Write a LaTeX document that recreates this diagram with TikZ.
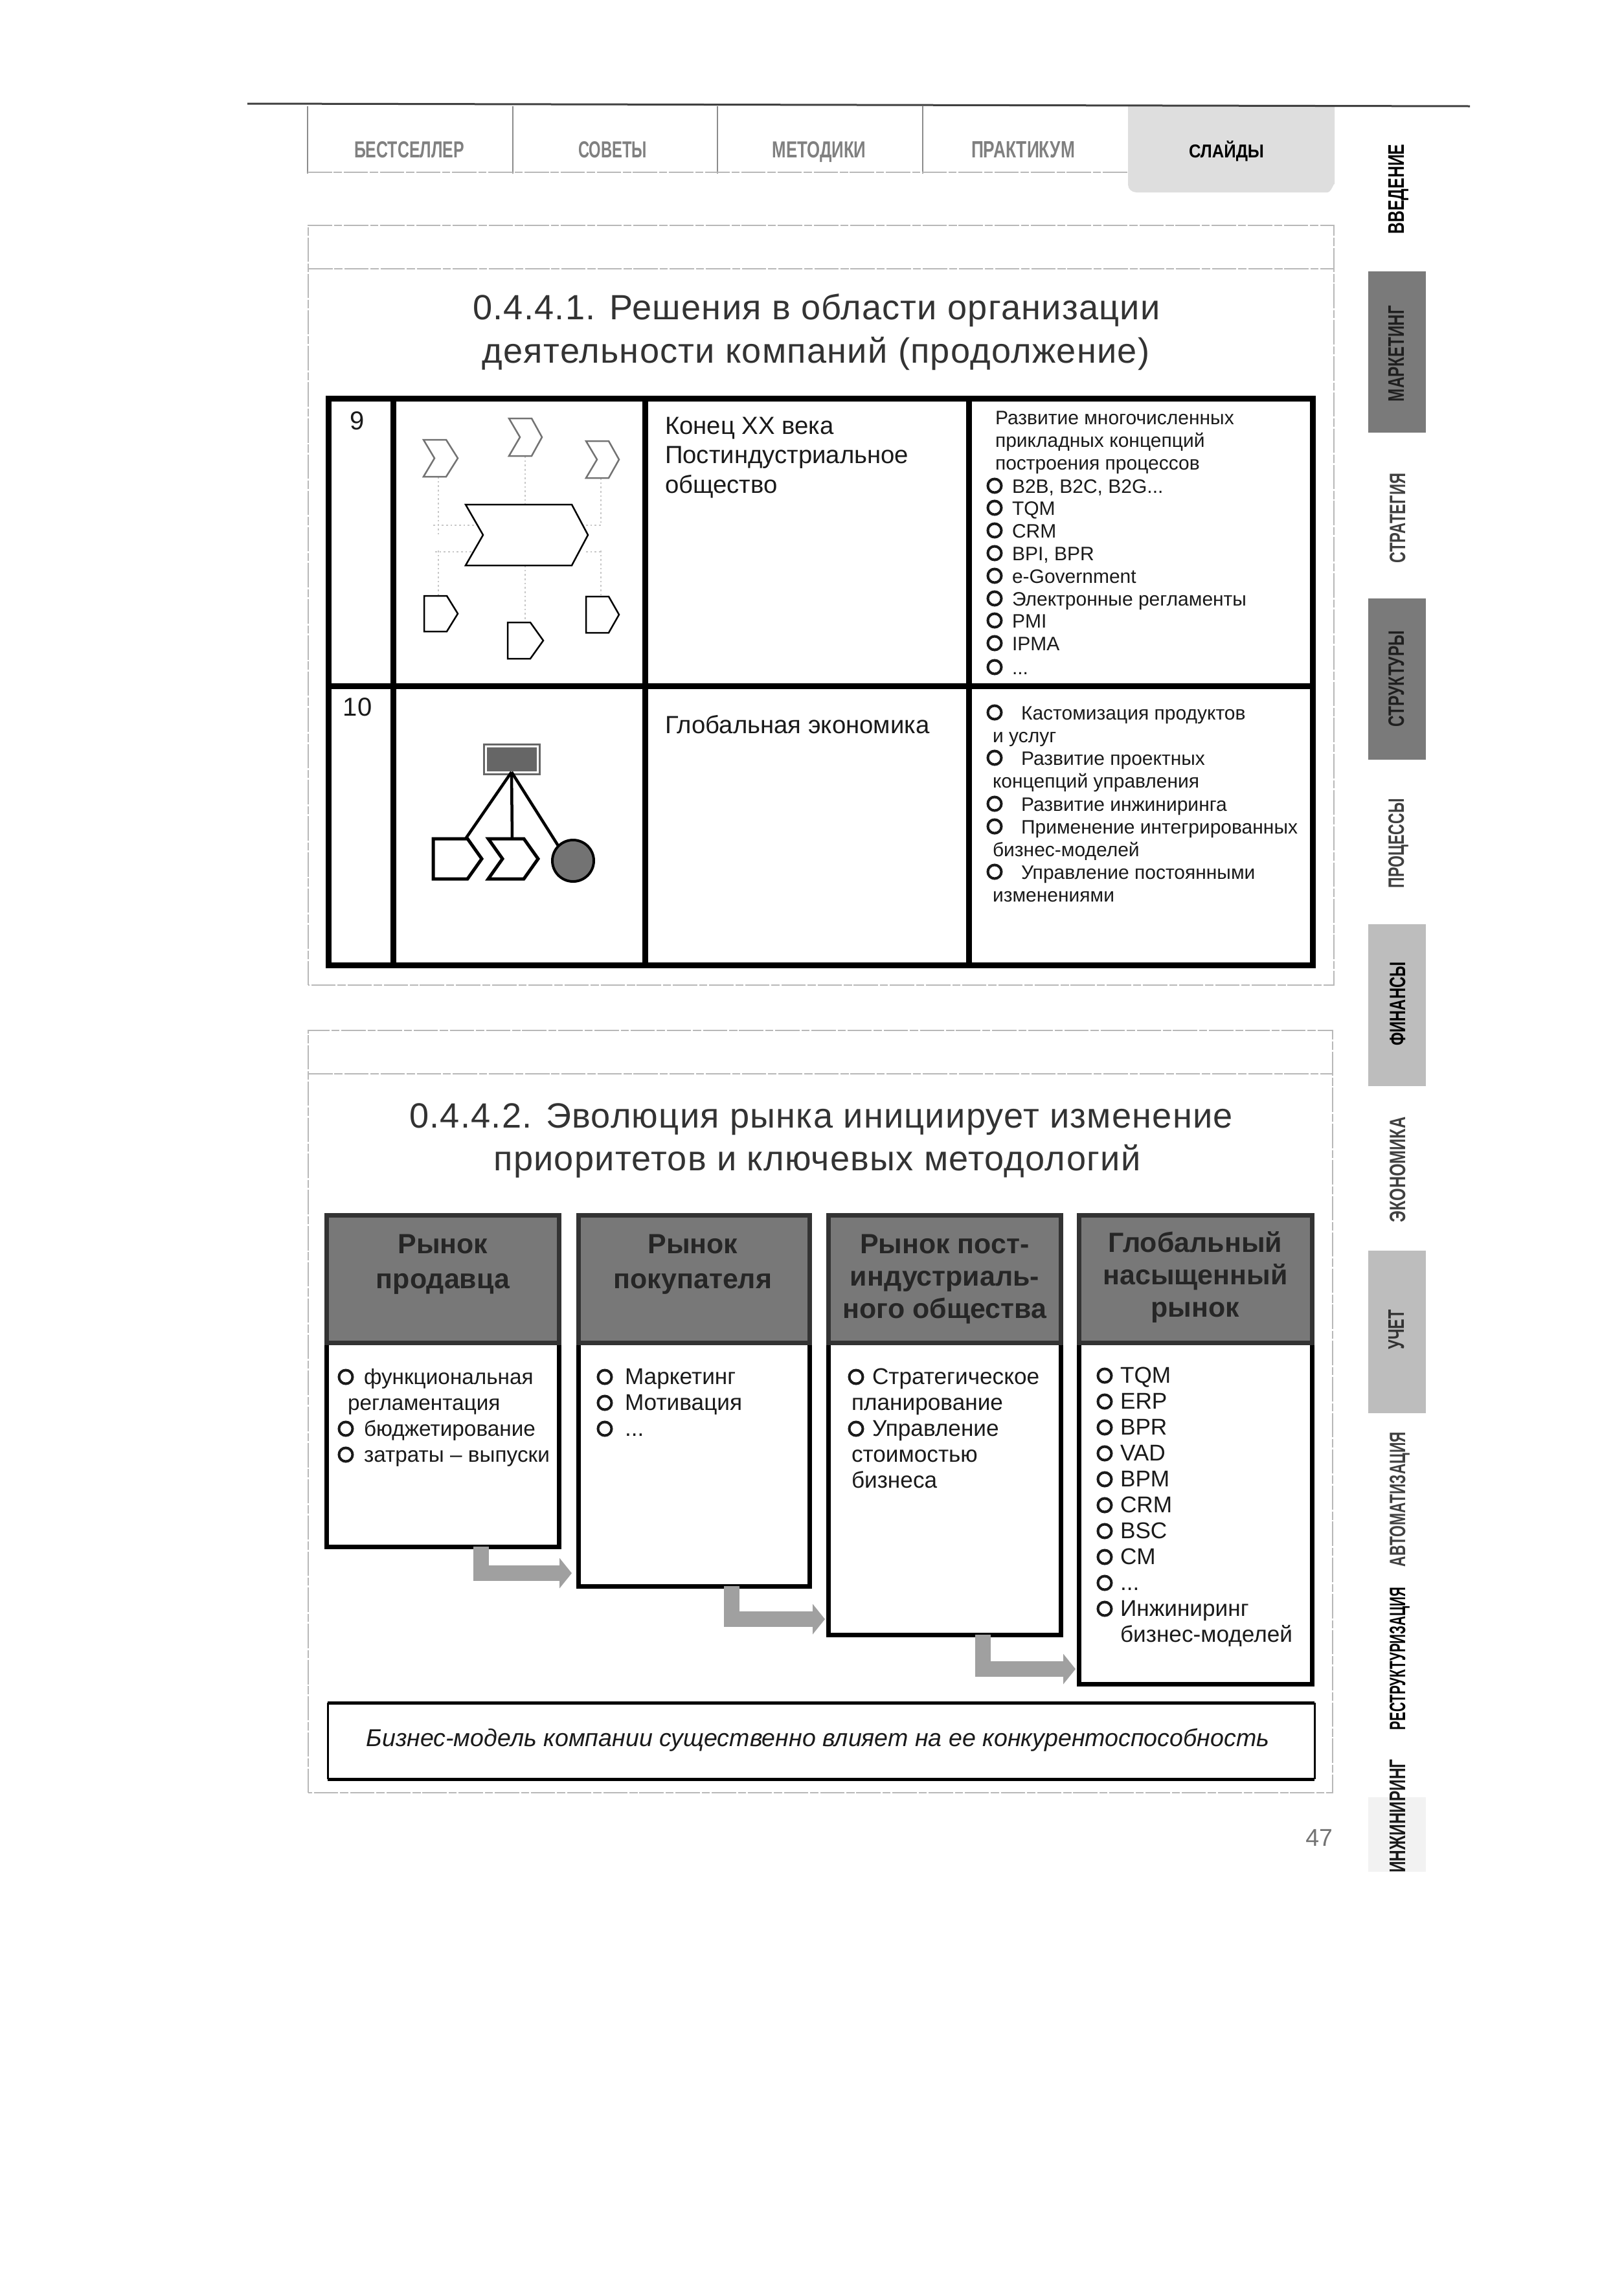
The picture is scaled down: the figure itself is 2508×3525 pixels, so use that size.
\documentclass[tikz,border=0pt]{standalone}
\usepackage{fontspec}
\usepackage{graphicx}
\usetikzlibrary{arrows.meta,calc}
\setmainfont{Liberation Sans}
\newfontfamily\titlef[LetterSpace=2.3]{Liberation Sans}
\newlength\pxu \setlength\pxu{0.24pt}
\newcount\nc
\definecolor{ink}{HTML}{1A1A1A}
\definecolor{faint}{HTML}{B8B8B8}
\definecolor{hdr}{HTML}{787878}
\definecolor{hdrline}{HTML}{333333}
\definecolor{flow}{HTML}{A0A0A0}
\definecolor{tabdark}{HTML}{7A7A7A}
\definecolor{tablight}{HTML}{BDBDBD}
\tikzset{
 every node/.style={inner sep=0,outer sep=0,text=ink},
 small/.style={font=\fontsize{7.2pt}{8pt}\selectfont,anchor=mid west},
 mid2/.style={font=\fontsize{9.2pt}{11pt}\selectfont,anchor=mid west},
 list/.style={font=\fontsize{8.45pt}{10pt}\selectfont,anchor=mid west},
 listn/.style={font=\fontsize{8.0pt}{10pt}\selectfont,anchor=mid west},
 ttl/.style={font=\titlef\fontsize{13pt}{15pt}\selectfont,text=black!80,anchor=center},
 hd/.style={font=\bfseries\fontsize{10.3pt}{12pt}\selectfont,align=center,text=black!85},
 tabl/.style={line width=9*\pxu,draw=black},
 bullet/.style={line width=4*\pxu,draw=ink},
 faintl/.style={line width=2.2*\pxu,draw=faint,dash pattern=on 9pt off 0.7pt on 3pt off 0.7pt},
 ghost/.style={line width=2.5*\pxu,draw=black!22,densely dotted},
 chevg/.style={line width=2.5*\pxu,draw=black!55,fill=white},
 chevk/.style={line width=2.5*\pxu,draw=black,fill=white},
 chevd/.style={line width=5*\pxu,draw=black,fill=white},
 headbox/.style={draw=hdrline,fill=hdr,line width=7*\pxu,anchor=north west},
 bodybox/.style={draw=black,fill=white,line width=7*\pxu,anchor=north west},
 flowarrow/.style={draw=flow,line width=5.76pt,-{Triangle[length=4.56pt,width=11.04pt]}},
 tabtxt/.style={text=black!#1,anchor=base},
 sidetxt/.style={text=black!#1,anchor=base,rotate=90},
}
\newcommand\fitt[3]{\resizebox{#1\pxu}{#2\pxu}{#3}}
\newcommand\lbl[4]{\global\advance\nc by 1\relax\node[#1] (t\the\nc) at (#2,#3) {#4};}
\newcommand\bul[2]{\draw[bullet] (#1,#2) circle [radius=10.5];}
\newcommand\bl[4]{\bul{#2}{#3}\lbl{#1}{#2+#4}{#3}}
\begin{document}
\begin{tikzpicture}[x=0.24pt,y=-0.24pt]
\useasboundingbox (0,0) rectangle (2508,3525);
\fill[white] (0,0) rectangle (2508,3525);
% top rule and tabs
\coordinate (ruleL) at (382,160); \coordinate (ruleR) at (2270,164);
\fill[black!13] (1742,164) -- (2061,164) -- (2061,285) to[out=90,in=0] (2050,297) -- (1755,297) to[out=180,in=-90] (1742,285) -- cycle;
\draw[line width=3*\pxu,draw=black!75] (ruleL) -- (ruleR);
\foreach \x in {475,792,1108,1425} \draw[line width=2*\pxu,draw=black!45] (\x,164) -- (\x,268);
\draw[faintl] (475,266) -- (1742,266);
\node[tabtxt=50] (tabA) at (632,243) {\fitt{170}{25}{\bfseries БЕСТСЕЛЛЕР}};
\node[tabtxt=50] (tabB) at (946,243) {\fitt{106}{25}{\bfseries СОВЕТЫ}};
\node[tabtxt=50] (tabC) at (1265,243) {\fitt{145}{25}{\bfseries МЕТОДИКИ}};
\node[tabtxt=50] (tabD) at (1580,243) {\fitt{160}{25}{\bfseries ПРАКТИКУМ}};
\node[tabtxt=100] (tabE) at (1894,243) {\fitt{116}{26}{\bfseries СЛАЙДЫ}};
% side tabs
\fill[tabdark] (2113,419) rectangle (2202,668);
\fill[tabdark] (2113,924) rectangle (2202,1173);
\fill[tablight] (2113,1427) rectangle (2202,1677);
\fill[tablight] (2113,1931) rectangle (2202,2182);
\fill[black!5] (2113,2775) rectangle (2202,2890);
\node[sidetxt=100] (sA) at (2168,292) {\fitt{139}{24}{\bfseries ВВЕДЕНИЕ}};
\node[sidetxt=88] (sB) at (2168,546) {\fitt{148}{24}{\bfseries МАРКЕТИНГ}};
\node[sidetxt=75] (sC) at (2170,800) {\fitt{139}{24}{\bfseries СТРАТЕГИЯ}};
\node[sidetxt=88] (sD) at (2168,1048) {\fitt{148}{24}{\bfseries СТРУКТУРЫ}};
\node[sidetxt=75] (sE) at (2168,1302) {\fitt{138}{24}{\bfseries ПРОЦЕССЫ}};
\node[sidetxt=100] (sF) at (2170,1550) {\fitt{129}{24}{\bfseries ФИНАНСЫ}};
\node[sidetxt=75] (sG) at (2170,1806) {\fitt{163}{24}{\bfseries ЭКОНОМИКА}};
\node[sidetxt=80] (sH) at (2168,2053) {\fitt{61}{24}{\bfseries УЧЕТ}};
\node[sidetxt=75] (sI) at (2170,2315) {\fitt{208}{24}{\bfseries АВТОМАТИЗАЦИЯ}};
\node[sidetxt=100] (sJ) at (2170,2561) {\fitt{221}{24}{\bfseries РЕСТРУКТУРИЗАЦИЯ}};
\node[sidetxt=90] (sK) at (2170,2804) {\fitt{175}{24}{\bfseries ИНЖИНИРИНГ}};
% page frames
\draw[faintl] (476,1521) -- (476,348) -- (2060,348) -- (2060,1521) -- cycle;
\draw[faintl] (476,415) -- (2060,415);
\draw[faintl] (476,2768) -- (476,1591) -- (2058,1591) -- (2058,2768) -- cycle;
\draw[faintl] (476,1658) -- (2058,1658);
% titles
\node[ttl] (title1a) at (1261,479) {0.4.4.1. Решения в области организации};
\node[ttl] (title1b) at (1260,546) {деятельности компаний (продолжение)};
\node[ttl] (title2a) at (1268,1728) {0.4.4.2. Эволюция рынка инициирует изменение};
\node[ttl] (title2b) at (1262,1793) {приоритетов и ключевых методологий};
% table
\draw[tabl] (507,615) rectangle (2027,1490);
\draw[tabl] (507,1059) -- (2027,1059);
\foreach \x in {607,996,1496} \draw[tabl] (\x,615) -- (\x,1490);
\node[font=\fontsize{9.6pt}{11pt}\selectfont] (num9) at (552,650) {9};
\node[font=\fontsize{9.6pt}{11pt}\selectfont] (num10) at (552,1092) {10};
% row 9 graphic
\foreach \a/\b/\c/\d in {677/736/677/826, 811/704/811/779, 928/738/928/811, 677/850/677/920, 811/873/811/961, 928/850/928/921, 669/811/744/811, 672/852/735/852, 905/811/928/811, 905/852/930/852}
 \draw[ghost] (\a,\b) -- (\c,\d);
\newcommand\chev[5]{\draw[#1] (#2,#4) -- (#2+35,#4) -- (#3,#4/2+#5/2) -- (#2+35,#5) -- (#2,#5) -- (#2+17,#4/2+#5/2) -- cycle;}
\newcommand\pent[5]{\draw[#1] (#2,#4) -- (#2+35,#4) -- (#3,#4/2+#5/2) -- (#2+35,#5) -- (#2,#5) -- cycle;}
\chev{chevg}{654}{707}{679}{736}
\chev{chevg}{786}{837}{646}{704}
\chev{chevg}{905}{956}{681}{738}
\draw[chevk] (719,779) -- (883,779) -- (908,826) -- (883,873) -- (719,873) -- (746,826) -- cycle;
\pent{chevk}{655}{707}{920}{975}
\pent{chevk}{784}{839}{961}{1017}
\pent{chevk}{905}{956}{921}{977}
% row 10 graphic
\node[draw=black!60,fill=black!60,double=white,double distance=3*\pxu,line width=3*\pxu,minimum width=80*\pxu,minimum height=40*\pxu,anchor=center] (root) at (790,1172) {};
\coordinate (pTop) at (719,1295);
\coordinate (cTop) at (791,1295);
\node[circle,draw=black,fill=black!55,line width=4*\pxu,minimum size=64*\pxu] (ell) at (885,1329) {};
\draw[line width=4.5*\pxu] (root.south) -- (pTop);
\draw[line width=4.5*\pxu] (root.south) -- (cTop);
\draw[line width=4.5*\pxu] (root.south) -- (ell.north west);
\draw[chevd] (669,1295) -- (722,1295) -- (744,1326) -- (722,1357) -- (669,1357) -- cycle;
\draw[chevd] (754,1295) -- (809,1295) -- (831,1326) -- (809,1357) -- (754,1357) -- (776,1326) -- cycle;
% col 2 of table
\lbl{mid2}{1027}{659}{Конец XX века}
\lbl{mid2}{1027}{704}{Постиндустриальное}
\lbl{mid2}{1027}{750}{общество}
\lbl{mid2}{1027}{1121}{Глобальная экономика}
% col 3 row 9
\lbl{small}{1537}{644}{Развитие многочисленных}
\lbl{small}{1537}{679}{прикладных концепций}
\lbl{small}{1537}{714}{построения процессов}
\bl{small}{1536}{750}{27}{B2B, B2C, B2G...}
\bl{small}{1536}{784}{27}{TQM}
\bl{small}{1536}{819}{27}{CRM}
\bl{small}{1536}{854}{27}{BPI, BPR}
\bl{small}{1536}{889}{27}{e-Government}
\bl{small}{1536}{924}{27}{Электронные регламенты}
\bl{small}{1536}{958}{27}{PMI}
\bl{small}{1536}{993}{27}{IPMA}
\bl{small}{1536}{1030}{27}{...}
% col 3 row 10
\bl{small}{1536}{1100}{41}{Кастомизация продуктов}
\lbl{small}{1533}{1135}{и услуг}
\bl{small}{1536}{1170}{41}{Развитие проектных}
\lbl{small}{1533}{1205}{концепций управления}
\bl{small}{1536}{1241}{41}{Развитие инжиниринга}
\bl{small}{1536}{1276}{41}{Применение интегрированных}
\lbl{small}{1533}{1311}{бизнес-моделей}
\bl{small}{1536}{1346}{41}{Управление постоянными}
\lbl{small}{1533}{1381}{изменениями}
% market columns
\node[bodybox,minimum width=359*\pxu,minimum height=315*\pxu] (c1) at (504,2073) {};
\node[bodybox,minimum width=357*\pxu,minimum height=376*\pxu] (c2) at (893,2073) {};
\node[bodybox,minimum width=359*\pxu,minimum height=451*\pxu] (c3) at (1279,2073) {};
\node[bodybox,minimum width=360*\pxu,minimum height=527*\pxu] (c4) at (1666,2073) {};
\node[headbox,minimum width=359*\pxu,minimum height=197*\pxu] (h1) at (504,1876) {};
\node[headbox,minimum width=357*\pxu,minimum height=197*\pxu] (h2) at (893,1876) {};
\node[headbox,minimum width=359*\pxu,minimum height=197*\pxu] (h3) at (1279,1876) {};
\node[headbox,minimum width=360*\pxu,minimum height=197*\pxu] (h4) at (1666,1876) {};
\node[hd] (h1t) at (684,1952) {Рынок\\[0.9pt]продавца};
\node[hd] (h2t) at (1070,1952) {Рынок\\[0.9pt]покупателя};
\node[hd] (h3t) at (1459,1975) {Рынок пост-\\индустриаль-\\ного общества};
\node[hd] (h4t) at (1846,1972) {Глобальный\\насыщенный\\рынок};
% flow arrows
\coordinate (t1) at (883,2429);
\coordinate (t2) at (1274,2500);
\coordinate (t3) at (1661,2577);
\draw[flowarrow] ($(c1.south west)!0.665!(c1.south east)$) |- (t1);
\draw[flowarrow] ($(c2.south west)!0.665!(c2.south east)$) |- (t2);
\draw[flowarrow] ($(c3.south west)!0.665!(c3.south east)$) |- (t3);
% list texts
\bl{listn}{534}{2126}{28}{функциональная}
\lbl{listn}{537}{2166}{регламентация}
\bl{listn}{534}{2206}{28}{бюджетирование}
\bl{listn}{534}{2246}{28}{затраты – выпуски}
\bl{list}{934}{2126}{31}{Маркетинг}
\bl{list}{934}{2166}{31}{Мотивация}
\bl{list}{934}{2206}{31}{...}
\bl{list}{1322}{2126}{25}{Стратегическое}
\lbl{list}{1315}{2166}{планирование}
\bl{list}{1322}{2206}{25}{Управление}
\lbl{list}{1315}{2246}{стоимостью}
\lbl{list}{1315}{2286}{бизнеса}
\bl{list}{1706}{2124}{24}{TQM}
\bl{list}{1706}{2164}{24}{ERP}
\bl{list}{1706}{2204}{24}{BPR}
\bl{list}{1706}{2244}{24}{VAD}
\bl{list}{1706}{2284}{24}{BPM}
\bl{list}{1706}{2324}{24}{CRM}
\bl{list}{1706}{2364}{24}{BSC}
\bl{list}{1706}{2404}{24}{CM}
\bl{list}{1706}{2444}{24}{...}
\bl{list}{1706}{2484}{24}{Инжиниринг}
\lbl{list}{1730}{2524}{бизнес-моделей}
% conclusion box
\draw[line width=5*\pxu] (506,2629) -- (2030,2629);
\draw[line width=5*\pxu] (506,2747) -- (2030,2747);
\draw[line width=3*\pxu] (506,2629) -- (506,2747);
\draw[line width=3*\pxu] (2030,2629) -- (2030,2747);
\node[font=\itshape\fontsize{9.02pt}{11pt}\selectfont,anchor=center] (concl) at (1263,2687) {Бизнес-модель компании существенно влияет на ее конкурентоспособность};
\node[font=\fontsize{9pt}{11pt}\selectfont,text=black!55,anchor=east] (page) at (2058,2838) {47};
\end{tikzpicture}
\end{document}
